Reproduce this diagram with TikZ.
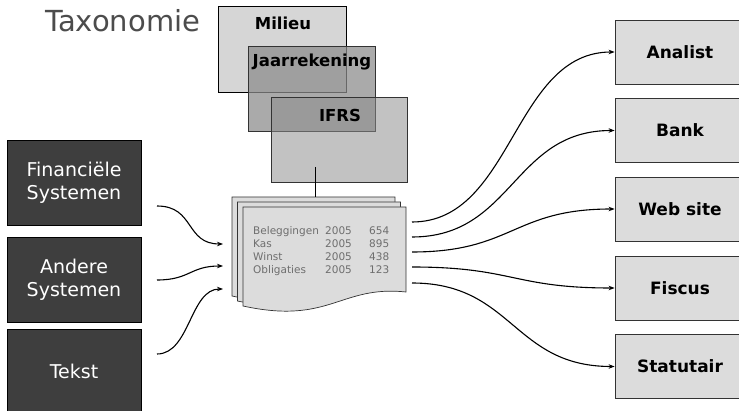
\documentclass[tikz,border=0pt]{standalone}
\usepackage{fontspec}
\setmainfont{DejaVu Sans}
\usetikzlibrary{arrows.meta}
\definecolor{darkbox}{HTML}{3E3E3E}
\definecolor{lightbox}{HTML}{DCDCDC}
\definecolor{milieufill}{HTML}{D6D6D6}
\definecolor{taxfill}{HTML}{8C8C8C}
\definecolor{titlegray}{HTML}{4C4C4C}
\definecolor{doctext}{HTML}{6E6E6E}
\definecolor{edgegray}{HTML}{333333}
\tikzset{
  srcbox/.style={draw=black, fill=darkbox, line width=0.8pt, minimum width=134pt, minimum height=85pt,
    text=white, align=center, inner sep=0pt, font=\fontsize{19}{23}\selectfont},
  dstbox/.style={draw=edgegray, fill=lightbox, line width=0.8pt, minimum width=130pt, minimum height=64pt,
    inner sep=0pt, font=\bfseries\fontsize{17}{20}\selectfont},
  taxbox/.style={draw=black, line width=0.7pt, inner sep=0pt},
  taxlabel/.style={anchor=base, inner sep=0pt, font=\bfseries\fontsize{16.5}{19}\selectfont},
  page/.style={draw=edgegray, fill=lightbox, line width=0.7pt},
  doclabel/.style={anchor=base west, inner sep=0pt, text=doctext, font=\fontsize{10.5}{12}\selectfont},
  flow/.style={line width=1.1pt, -{Stealth[length=6pt,width=4.5pt]}},
}
\begin{document}
\begin{tikzpicture}[x=1pt,y=-1pt]
\path[use as bounding box] (0,0) rectangle (739,411);
\clip (0,0) rectangle (739,411);

% title
\node[anchor=base west, inner sep=0pt, text=titlegray, font=\fontsize{29}{34}\selectfont] (title) at (45,32) {Taxonomie};

% taxonomy boxes
\node[taxbox, fill=milieufill, minimum width=128pt, minimum height=86pt] (milieu) at (282,49) {};
\node[taxlabel] (milieuT) at (283,30) {Milieu};
\node[taxbox, draw=edgegray, fill=taxfill, fill opacity=0.74, minimum width=127pt, minimum height=85pt] (jaar) at (311.5,88.5) {};
\node[taxlabel] (jaarT) at (312,67) {Jaarrekening};
\node[taxbox, draw=edgegray, fill=taxfill, fill opacity=0.53, minimum width=136pt, minimum height=85pt] (ifrs) at (339,139.5) {};
\node[taxlabel] (ifrsT) at (340,122) {IFRS};

% document stack
\foreach \dx/\dy in {0/0, 5.5/5, 11/10} {
  \begin{scope}[shift={(\dx,\dy)}]
    \draw[page] (232,197) -- (395,197) -- (395,282)
      .. controls (329,275) and (319,315) .. (232,296) -- cycle;
  \end{scope}
}
\coordinate (ifrsfoot) at (315,167);
\coordinate (doctop) at (315,197);
\draw[line width=1pt] (ifrsfoot) -- (doctop);

\node[doclabel] (r1a) at (253,235) {Beleggingen};
\node[doclabel] (r1b) at (325,235) {2005};
\node[doclabel] (r1c) at (369,235) {654};
\node[doclabel] (r2a) at (253,248) {Kas};
\node[doclabel] (r2b) at (325,248) {2005};
\node[doclabel] (r2c) at (369,248) {895};
\node[doclabel] (r3a) at (253,261) {Winst};
\node[doclabel] (r3b) at (325,261) {2005};
\node[doclabel] (r3c) at (369,261) {438};
\node[doclabel] (r4a) at (253,274) {Obligaties};
\node[doclabel] (r4b) at (325,274) {2005};
\node[doclabel] (r4c) at (369,274) {123};

% source boxes
\node[srcbox] (fin) at (74,182.5) {Financiële\\Systemen};
\node[srcbox] (andere) at (74,279.5) {Andere\\Systemen};
\node[srcbox] (tekst) at (74,371.5) {Tekst};

% destination boxes
\node[dstbox] (analist) at (680,52) {Analist};
\node[dstbox] (bank) at (680,130.5) {Bank};
\node[dstbox] (web) at (680,209) {Web site};
\node[dstbox] (fiscus) at (680,288) {Fiscus};
\node[dstbox] (stat) at (680,366.5) {Statutair};

% incoming arrows
\coordinate (s1) at (157,206);
\coordinate (s2) at (157,280);
\coordinate (s3) at (157,354);
\coordinate (i1) at (223,244);
\coordinate (i2) at (223,266);
\coordinate (i3) at (223,289);
\draw[flow] (s1) .. controls (195,206) and (185,244) .. (i1);
\draw[flow] (s2) .. controls (190,280) and (190,266) .. (i2);
\draw[flow] (s3) .. controls (190,354) and (190,289) .. (i3);

% outgoing arrows
\coordinate (o1) at (412,222);
\coordinate (o2) at (412,237);
\coordinate (o3) at (412,252);
\coordinate (o4) at (412,267);
\coordinate (o5) at (412,283);
\draw[flow] (o1) .. controls (513,222) and (513,52) .. (analist.west);
\draw[flow] (o2) .. controls (513,237) and (513,130.5) .. (bank.west);
\draw[flow] (o3) .. controls (513,252) and (513,209) .. (web.west);
\draw[flow] (o4) .. controls (513,267) and (513,288) .. (fiscus.west);
\draw[flow] (o5) .. controls (513,283) and (513,366.5) .. (stat.west);
\end{tikzpicture}
\end{document}
